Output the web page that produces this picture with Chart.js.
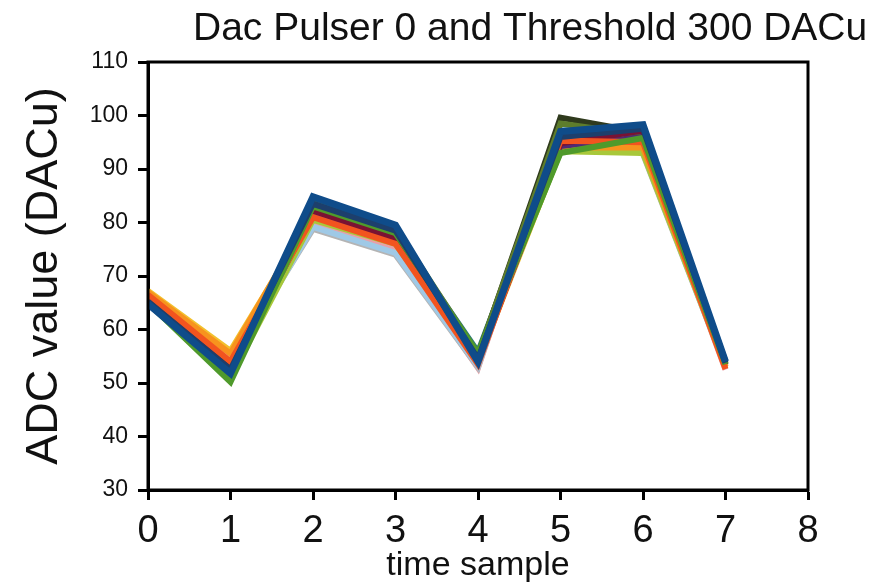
<!DOCTYPE html>
<html>
<head>
<meta charset="utf-8">
<script src="https://cdn.jsdelivr.net/npm/chart.js@4.4.1/dist/chart.umd.min.js"></script>
<style>
  html, body { margin: 0; padding: 0; background: #ffffff; }
  #wrap { width: 879px; height: 584px; }
</style>
</head>
<body>
<div id="wrap"><canvas id="c" width="879" height="584"></canvas></div>
<script>
const chartTitle = "Dac Pulser 0 and Threshold 300 DACu";
const xAxisTitle = "time sample";
const yAxisTitle = "ADC value (DACu)";
const timeSamples = [0, 1, 2, 3, 4, 5, 6, 7];
const yTickRange = [30, 110, 10];
const xTickRange = [0, 8, 1];

// one waveform per channel (ADC value at each time sample)
const chBlue       = [64.8, 51.8, 84.8, 79.5, 54.0, 97.0, 98.3, 54.0];
const chDarkBlue   = [65.2, 52.5, 83.5, 78.5, 54.5, 96.0, 97.5, 53.8];
const chGreen      = [65.0, 50.2, 83.0, 78.0, 55.5, 93.0, 95.8, 53.5];
const chOrangeRed  = [66.5, 54.0, 81.0, 76.0, 53.5, 95.3, 95.0, 52.6];
const chOrange     = [67.0, 55.5, 82.0, 77.8, 54.5, 94.0, 94.0, 53.0];
const chMaroon     = [65.8, 52.5, 82.2, 77.0, 54.2, 94.8, 97.2, 53.5];
const chPurple     = [65.5, 52.2, 81.8, 76.5, 54.0, 94.3, 96.0, 53.5];
const chOlive      = [65.5, 52.0, 83.8, 79.0, 55.3, 98.5, 96.3, 53.6];
const chDarkOlive  = [66.0, 52.8, 82.5, 77.5, 55.0, 99.6, 96.8, 53.5];
const chTeal       = [65.0, 51.2, 83.2, 78.2, 55.8, 96.3, 96.8, 54.0];
const chYellowGrn  = [66.0, 51.0, 80.5, 76.0, 54.8, 93.3, 93.0, 53.2];
const chLightBlue  = [66.2, 53.2, 79.2, 74.3, 53.2, 98.0, 93.3, 53.0];
const chGray       = [66.0, 53.8, 78.8, 74.0, 53.0, 98.8, 92.8, 53.0];
const chPink       = [66.6, 54.8, 80.0, 75.0, 52.8, 98.3, 94.5, 52.5];
const chYellow     = [67.2, 56.0, 81.5, 77.0, 54.0, 93.5, 93.5, 53.0];

// first entry is drawn on top
const seriesList = [
  [chBlue,      '#0f4c8a', 7],
  [chDarkBlue,  '#1d3f6c', 6],
  [chGreen,     '#4f9a2b', 6],
  [chOrangeRed, '#f2541f', 6],
  [chMaroon,    '#7a1233', 6],
  [chPurple,    '#4e2a75', 6],
  [chOlive,     '#5e7d2c', 6],
  [chDarkOlive, '#2f3a1d', 6],
  [chTeal,      '#2b7a78', 6],
  [chOrange,    '#f7931e', 6],
  [chYellowGrn, '#a8c83a', 6],
  [chLightBlue, '#9fc9e6', 6],
  [chGray,      '#b4b4b4', 6],
  [chPink,      '#e8a0a8', 6],
  [chYellow,    '#f2c12e', 6]
];

const FONT = "'Liberation Sans', Arial, sans-serif";

const datasets = seriesList.map(([vals, color, w], i) => ({
  label: 'ch' + i,
  data: timeSamples.map((t, k) => ({ x: t, y: vals[k] })),
  borderColor: color,
  backgroundColor: color,
  borderWidth: w,
  pointRadius: 0,
  tension: 0,
  fill: false,
  borderJoinStyle: 'miter',
  borderCapStyle: 'butt'
}));

const framePlugin = {
  id: 'frame',
  afterDraw(chart) {
    const { ctx, chartArea: a } = chart;
    ctx.save();
    ctx.strokeStyle = '#000';
    ctx.lineWidth = 3;
    ctx.strokeRect(a.left, a.top, a.right - a.left, a.bottom - a.top);
    ctx.fillStyle = '#111';
    ctx.font = '39px ' + FONT;
    ctx.textAlign = 'left';
    ctx.textBaseline = 'alphabetic';
    ctx.fillText(chartTitle, 193, 40);
    ctx.restore();
  }
};

new Chart(document.getElementById('c'), {
  type: 'line',
  data: { datasets },
  plugins: [framePlugin],
  options: {
    responsive: false,
    animation: false,
    devicePixelRatio: 1,
    layout: { padding: { top: 62, right: 71, left: 0, bottom: 0 } },
    plugins: { legend: { display: false }, tooltip: { enabled: false }, title: { display: false } },
    scales: {
      x: {
        type: 'linear',
        min: xTickRange[0], max: xTickRange[1],
        afterFit(s) { s.height = 94; },
        ticks: { stepSize: xTickRange[2], color: '#111', padding: 9, font: { family: FONT, size: 38, lineHeight: 1.2 } },
        grid: { drawOnChartArea: false, drawTicks: true, tickLength: 10, tickWidth: 3, tickColor: '#000' },
        border: { display: true, width: 3, color: '#000' },
        title: { display: true, text: xAxisTitle, color: '#111', font: { family: FONT, size: 34, lineHeight: 1.0 }, padding: { top: 0, bottom: 1 } }
      },
      y: {
        type: 'linear',
        min: yTickRange[0], max: yTickRange[1],
        afterFit(s) { s.width = 148; },
        ticks: { stepSize: yTickRange[2], color: '#111', padding: 10, font: { family: FONT, size: 23 } },
        grid: { drawOnChartArea: false, drawTicks: true, tickLength: 10, tickWidth: 3, tickColor: '#000' },
        border: { display: true, width: 3, color: '#000' },
        title: { display: true, text: yAxisTitle, color: '#111', font: { family: FONT, size: 45, lineHeight: 1.2 }, padding: { top: 18, bottom: 0 } }
      }
    }
  }
});
</script>
</body>
</html>
